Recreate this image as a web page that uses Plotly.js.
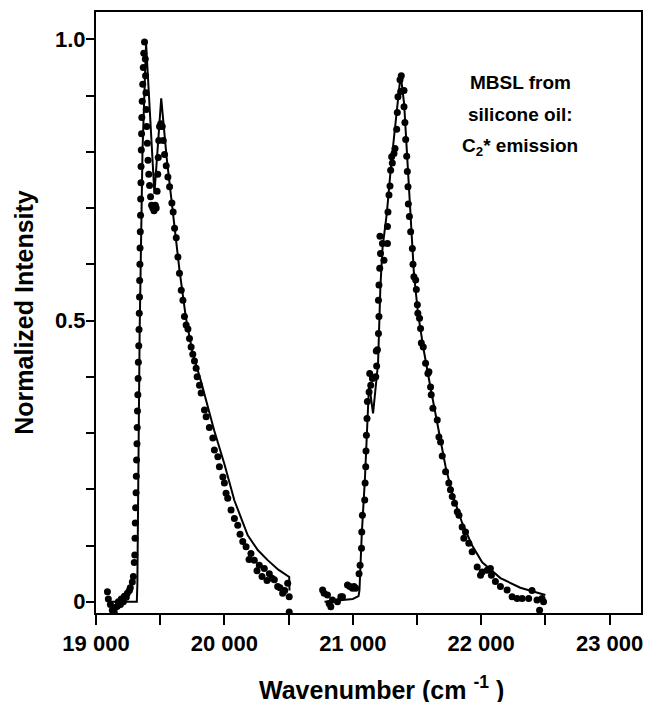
<!DOCTYPE html>
<html>
<head>
<meta charset="utf-8">
<script src="https://cdn.plot.ly/plotly-3.0.1.min.js"></script>
<style>html,body{margin:0;padding:0;background:#fff;}#chart{width:652px;height:702px;}</style>
</head>
<body>
<div id="chart"></div>
<script>
// Measured points, band 1
const dotWn1 = [19089,19096,19112,19127,19143,19151,19166,19174,19190,19197,19213,19221,19236,19244,19260,19267,19283,19291,19298,
  19302,19304,19306,19309,19312,19314,19316,19319,19321,19323,19326,19328,19330,19333,19335,19337,19339,19340,19342,19343,19345,19347,19348,19350,19351,19353,19355,19357,19360,19364,19368,19372,19378,
  19384,19386,19389,19392,19395,19400,19405,19411,19417,19425,19433,19442,19452,19462,19469,
  19476,19481,19485,19489,19495,19504,19516,19524,19534,19547,
  19560,19573,19591,19601,19612,19625,19638,19650,19664,19677,19689,19702,19716,19728,19741,19754,19767,19780,
  19788,19806,19819,19845,19858,19883,19910,19922,19949,19961,19988,20000,20013,20026,20052,20078,20104,20122,20143,20169,20192,20207,20233,20254,20272,20293,20311,20332,20350,20371,20389,20415,20433,20454,20470,20493,20505,20505];
const dotI1 = [0.018,0.005,-0.005,-0.015,-0.02,-0.01,-0.008,0.0,-0.005,0.005,0.0,0.01,0.008,0.015,0.02,0.025,0.035,0.045,0.07,
  0.083,0.113,0.14,0.167,0.194,0.223,0.252,0.281,0.31,0.339,0.368,0.397,0.426,0.455,0.484,0.513,0.542,0.571,0.6,0.629,0.658,0.687,0.716,0.745,0.774,0.803,0.832,0.861,0.89,0.92,0.95,0.975,0.995,
  0.965,0.935,0.905,0.875,0.845,0.815,0.785,0.76,0.74,0.72,0.705,0.7,0.695,0.705,0.7,
  0.73,0.76,0.79,0.82,0.845,0.85,0.845,0.82,0.795,0.775,
  0.755,0.738,0.709,0.693,0.664,0.647,0.613,0.584,0.554,0.536,0.507,0.492,0.485,0.468,0.453,0.44,0.428,0.415,
  0.4,0.385,0.371,0.341,0.329,0.31,0.291,0.27,0.258,0.24,0.222,0.211,0.193,0.184,0.163,0.148,0.136,0.12,0.107,0.098,0.075,0.086,0.074,0.055,0.065,0.045,0.059,0.038,0.05,0.042,0.039,0.027,0.025,0.015,0.02,0.033,0.009,-0.018];

// Measured points, band 2
const dotWn2 = [20765,20777,20803,20816,20829,20842,20881,20907,20920,20959,20977,20998,21010,21023,21049,
  21057,21068,21070,21075,21093,21096,21101,21103,21106,21111,21114,21127,21140,21132,21153,21179,21186,21183,
  21192,21200,21204,21200,21204,21210,21216,21243,21231,21270,21212,21270,21274,21282,21290,21295,21308,21303,21321,21329,21342,21347,21352,21368,21378,
  21399,21373,21399,21406,21412,21420,21425,21430,21433,21441,21451,21464,21469,21476,21490,21495,21503,21507,21520,21528,21534,21549,21567,21585,21593,21606,21611,21624,21658,21671,21684,21697,21723,21748,21761,21775,21793,21814,21827,21852,21865,21878,21904,21930,21969,21995,22008,22047,22072,22080,22111,22150,22202,22241,22280,22319,22370,22396,22435,22455,22474,22486];
const dotI2 = [0.021,0.015,0.012,-0.003,-0.009,0.003,0.0,0.009,0.009,0.03,0.027,0.024,0.027,0.024,0.05,
  0.065,0.095,0.124,0.154,0.181,0.211,0.24,0.268,0.296,0.326,0.356,0.373,0.385,0.406,0.397,0.4,0.419,0.446,
  0.448,0.477,0.507,0.536,0.563,0.593,0.619,0.607,0.637,0.637,0.65,0.667,0.693,0.723,0.739,0.767,0.78,0.791,0.797,0.806,0.84,0.87,0.898,0.928,0.935,
  0.909,0.907,0.88,0.852,0.822,0.792,0.765,0.738,0.707,0.685,0.658,0.628,0.6,0.578,0.572,0.555,0.528,0.513,0.504,0.486,0.46,0.453,0.424,0.406,0.409,0.382,0.368,0.344,0.323,0.293,0.284,0.259,0.231,0.211,0.199,0.187,0.175,0.16,0.154,0.133,0.113,0.124,0.104,0.089,0.062,0.047,0.053,0.056,0.059,0.047,0.036,0.027,0.021,0.009,0.006,0.006,0.006,0.02,0.003,-0.015,0.006,0.0];

// Simulated spectrum (solid line); null separates the two bands
const fitWn = [19100,19318,19322,19340,19362,19390,19455,19508,19550,19600,19650,19700,19750,19820,19920,20000,20078,20182,20260,20337,20420,20505,20507,
  null,
  20780,21000,21045,21052,21070,21095,21127,21158,21197,21215,21232,21265,21300,21335,21373,21400,21420,21440,21476,21507,21549,21606,21658,21723,21775,21852,21930,22008,22150,22305,22500];
const fitI = [0,0,0.03,0.48,0.8,0.993,0.725,0.895,0.79,0.69,0.59,0.505,0.445,0.39,0.305,0.245,0.18,0.118,0.092,0.074,0.057,0.044,0.02,
  null,
  0.0,0.005,0.01,0.02,0.12,0.22,0.388,0.335,0.424,0.56,0.63,0.69,0.78,0.855,0.937,0.885,0.8,0.72,0.585,0.515,0.452,0.38,0.32,0.24,0.192,0.14,0.1,0.07,0.042,0.025,0.012];

const xTickVals = [19000,20000,21000,22000,23000];
const xTickText = ['19 000','20 000','21 000','22 000','23 000'];
const yTickVals = [0,0.5,1.0];
const yTickText = ['0','0.5','1.0'];
const noteLines = ['MBSL from', 'silicone oil:', 'C<sub>2</sub>* emission'];
const xTitle = 'Wavenumber (cm <sup>-1</sup> )';
const yTitle = 'Normalized Intensity';

const FONT = 'Liberation Sans, Arial, Helvetica, sans-serif';

const traces = [
  {x: fitWn, y: fitI, mode: 'lines', type: 'scatter', connectgaps: false,
   line: {color: '#000', width: 2}, hoverinfo: 'skip', showlegend: false},
  {x: dotWn1.concat(dotWn2), y: dotI1.concat(dotI2), mode: 'markers', type: 'scatter',
   marker: {color: '#000', size: 7}, showlegend: false}
];

const noteY = [0.882, 0.829, 0.775];
const annotations = noteLines.map((t, i) => ({
  text: t, xref: 'paper', yref: 'paper', x: 0.778, y: noteY[i],
  xanchor: 'center', yanchor: 'middle', showarrow: false,
  font: {family: FONT, size: 19, weight: 'bold', color: '#000'}
}));
annotations.push({
  text: xTitle, xref: 'paper', yref: 'paper', x: 0.523, y: -0.125,
  xanchor: 'center', yanchor: 'middle', showarrow: false,
  font: {family: FONT, size: 25, weight: 'bold', color: '#000'}
});

const layout = {
  width: 652, height: 702,
  margin: {l: 96, r: 11, t: 12, b: 89},
  paper_bgcolor: '#fff', plot_bgcolor: '#fff',
  font: {family: FONT, color: '#000'},
  showlegend: false,
  xaxis: {
    range: [19000, 23245], showgrid: false, zeroline: false,
    showline: true, mirror: true, linecolor: '#000', linewidth: 2,
    tickmode: 'array', tickvals: xTickVals, ticktext: xTickText,
    ticks: 'outside', ticklen: 10, tickwidth: 2, tickcolor: '#000',
    minor: {tick0: 19000, dtick: 500, ticks: 'outside', ticklen: 10, tickwidth: 2, tickcolor: '#000', showgrid: false},
    tickfont: {family: FONT, size: 22, weight: 'bold', color: '#000'}
  },
  yaxis: {
    range: [-0.02, 1.0485], showgrid: false, zeroline: false,
    showline: true, mirror: true, linecolor: '#000', linewidth: 2,
    tickmode: 'array', tickvals: yTickVals, ticktext: yTickText,
    ticks: 'outside', ticklen: 8, tickwidth: 2, tickcolor: '#000',
    minor: {tick0: 0, dtick: 0.1, ticks: 'outside', ticklen: 8, tickwidth: 2, tickcolor: '#000', showgrid: false},
    ticklabelstandoff: -4,
    tickfont: {family: FONT, size: 22, weight: 'bold', color: '#000'},
    title: {text: yTitle, font: {family: FONT, size: 25, weight: 'bold', color: '#000'}, standoff: 14}
  },
  annotations: annotations
};

Plotly.newPlot('chart', traces, layout, {displayModeBar: false, staticPlot: true});
</script>
</body>
</html>
